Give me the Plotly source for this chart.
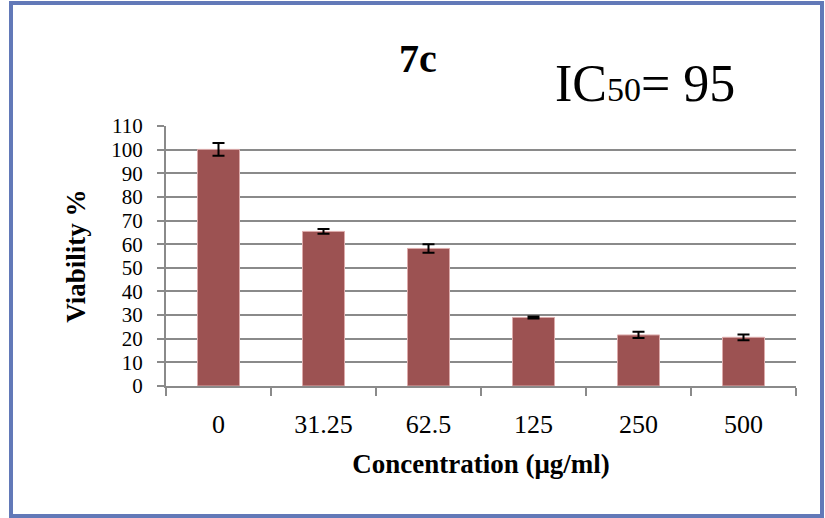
import plotly.graph_objects as go

categories = ["0", "31.25", "62.5", "125", "250", "500"]
viability = [100.1, 65.4, 58.2, 29.0, 21.6, 20.6]
errors = [2.7, 1.0, 1.8, 0.4, 1.3, 1.2]
y_ticks = list(range(0, 111, 10))

FONT = "Liberation Serif, DejaVu Serif, serif"
GRID = "#8a8a8a"

fig = go.Figure()
fig.add_trace(go.Bar(
    x=categories, y=viability, width=0.4,
    marker=dict(color="#9c5252", line=dict(color="#dcaaaa", width=1)),
    error_y=dict(type="data", array=errors, visible=True, color="black",
                 thickness=2, width=6),
))

fig.update_layout(
    width=825, height=518,
    margin=dict(l=166, r=29, t=126, b=132),
    paper_bgcolor="white", plot_bgcolor="white",
    showlegend=False,
    font=dict(family=FONT, color="black", size=26),
    xaxis=dict(
        type="category", tickson="boundaries", ticks="outside", ticklen=8,
        tickcolor=GRID, tickwidth=2, showline=True, linecolor=GRID, linewidth=2,
        showgrid=False, tickfont=dict(size=26, family=FONT),
        ticklabelstandoff=14,
        title=dict(text="<b>Concentration (μg/ml)</b>", font=dict(size=27, family=FONT), standoff=16),
    ),
    yaxis=dict(
        range=[0, 110], tickvals=y_ticks, ticks="outside", ticklen=7,
        tickcolor=GRID, tickwidth=2, showline=True, linecolor=GRID, linewidth=2,
        showgrid=True, gridcolor=GRID, gridwidth=2, zeroline=False,
        tickfont=dict(size=21, family=FONT), ticklabelstandoff=10,
        title=dict(text="<b>Viability %</b>", font=dict(size=27, family=FONT), standoff=18),
    ),
    shapes=[dict(type="rect", xref="paper", yref="paper",
                 x0=(11 - 166) / 630, x1=(822 - 166) / 630,
                 y0=(386 - 516) / 260, y1=(386 - 3) / 260,
                 line=dict(color="#6279b8", width=4), fillcolor="rgba(0,0,0,0)", layer="below")],
    annotations=[
        dict(text="<b>7c</b>", xref="paper", yref="paper", x=(418 - 166) / 630, y=(386 - 58) / 260,
             showarrow=False, font=dict(size=40, family=FONT), xanchor="center", yanchor="middle"),
        dict(text="IC<span style='font-size:34px'>50</span>= 95", xref="paper", yref="paper",
             x=(553 - 166) / 630, y=(386 - 84) / 260,
             showarrow=False, font=dict(size=52, family=FONT), xanchor="left", yanchor="middle"),
    ],
)

fig.write_html("out.html", config={"displayModeBar": False},
               post_script="document.body.style.margin='0';document.body.style.overflow='hidden';")
